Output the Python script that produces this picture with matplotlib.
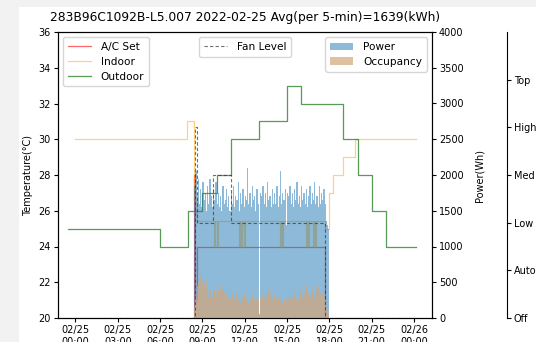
import matplotlib
matplotlib.use('Agg')
import matplotlib.pyplot as plt
import matplotlib.dates as mdates
import pandas as pd
from matplotlib.patches import Rectangle

# ---------------- data ----------------
title = "283B96C1092B-L5.007 2022-02-25 Avg(per 5-min)=1639(kWh)"

outdoor_times = ['2022-02-24 23:30', '2022-02-25 06:00', '2022-02-25 08:00', '2022-02-25 09:00',
                 '2022-02-25 10:00', '2022-02-25 11:00', '2022-02-25 13:00', '2022-02-25 15:00',
                 '2022-02-25 16:00', '2022-02-25 19:00', '2022-02-25 20:00', '2022-02-25 21:00',
                 '2022-02-25 22:00', '2022-02-26 00:10']
outdoor_vals = [25, 24, 26, 27, 28, 30, 31, 33, 32, 30, 28, 26, 24, 24]

indoor_times = ['00:00', '07:55', '08:25', '08:35',
                '09:50', '09:55', '10:00', '10:05',
                '11:35', '11:40', '11:45', '11:50', '11:55', '12:00',
                '14:30', '14:35', '14:40', '14:45',
                '16:20', '16:25', '16:30', '16:35',
                '16:50', '16:55', '17:00', '17:05',
                '17:40', '18:00', '18:15', '19:00', '19:50', '24:10']
indoor_vals = [30, 31, 26.5, 25.4,
               24, 25.4, 24, 25.4,
               24, 25.4, 24, 25.4, 24, 25.4,
               24, 25.4, 24, 25.4,
               24, 25.4, 24, 25.4,
               24, 25.4, 24, 25.4,
               25, 27, 28, 29, 30, 30]

acset_times = ['00:00', '08:25', '08:30', '08:35', '17:40', '24:10']
acset_vals = [0, 28, 21, 24, 0, 0]

fan_times = ['00:00', '08:30', '08:35', '09:45', '11:00', '17:40', '24:10']
fan_vals = [0, 4, 2, 3, 2, 0, 0]
fan_labels = ['Off', 'Auto', 'Low', 'Med', 'High', 'Top']

power_start = '2022-02-25 08:25'
power_vals = [1850, 2050, 1700, 1950, 1600, 1800, 1550, 1900,
              1650, 1750, 1500, 1850, 1600, 1950, 1700, 1550, 1800, 1650, 1900, 1600,
              1750, 1550, 1700, 1500, 1850, 1600, 1650, 1800, 1550, 1700, 1500, 1750,
              1600, 1850, 1550, 1700, 1650, 1900, 1500, 1750, 1600, 1800, 1550, 1700,
              1650, 2100, 1600, 1750, 1550, 1850, 1650, 1700, 1500, 1800, 1600, 60,
              1750, 1700, 1850, 1600, 1750, 1550, 1900, 1650, 1700, 1550, 1800, 1600,
              1750, 1600, 1850, 1550, 1700, 2050, 1600, 1750, 1650, 1800, 1300, 1750,
              1700, 1850, 1600, 1750, 1550, 1800, 1650, 1900, 1600, 1700, 1550, 1850,
              1650, 1750, 1600, 1800, 1550, 1700, 1850, 1600, 1750, 1650, 1900, 1600,
              1700, 1550, 1850, 1600, 1750, 1650, 1800, 1600, 1350, 1300, 1250]
occ_vals = [150, 300, 450, 500, 550, 600, 650, 500,
            450, 400, 550, 350, 300, 400, 350, 300, 450, 400, 350, 300,
            400, 350, 450, 500, 400, 350, 300, 350, 400, 300, 250, 300,
            350, 300, 250, 300, 350, 250, 300, 200, 250, 300, 350, 250,
            300, 250, 200, 250, 300, 350, 300, 250, 200, 250, 300, 0,
            250, 300, 350, 300, 250, 300, 350, 400, 350, 300, 250, 300,
            350, 300, 250, 300, 350, 300, 250, 200, 250, 300, 250, 300,
            250, 300, 350, 300, 400, 350, 300, 250, 300, 350, 400, 350,
            300, 350, 400, 450, 400, 350, 300, 350, 400, 350, 300, 350,
            400, 450, 400, 350, 400, 350, 300, 250, 150, 100, 50]

# ---------------- helpers ----------------
def tday(lst):
    return [pd.Timestamp('2022-02-25') + pd.Timedelta(hours=int(s.split(':')[0]), minutes=int(s.split(':')[1])) for s in lst]

W, H = 536, 342
fig = plt.figure(figsize=(W / 100, H / 100), dpi=100)
fig.patch.set_facecolor('#f1f2f1')
fig.add_artist(Rectangle((19 / W, 0), 1, (H - 7) / H, transform=fig.transFigure,
                         facecolor='white', edgecolor='none', zorder=-10))

ax1 = fig.add_axes([58 / W, (H - 318) / H, (432 - 58) / W, (318 - 32) / H])
ax2 = ax1.twinx()
ax3 = ax1.twinx()
ax3.spines['right'].set_position(('axes', 1.2))
for s in ['left', 'top', 'bottom']:
    ax3.spines[s].set_visible(False)

fs = 7
# temperature lines
l1, = ax1.plot(tday(acset_times), acset_vals, drawstyle='steps-post', color='red', lw=0.9, alpha=0.6, label='A/C Set')
l2, = ax1.plot(tday(indoor_times), indoor_vals, drawstyle='steps-post', color='orange', lw=0.9, alpha=0.5, label='Indoor')
l3, = ax1.plot(pd.to_datetime(outdoor_times), outdoor_vals, drawstyle='steps-post', color='#1e7a1e', lw=0.9, alpha=0.75, label='Outdoor')
ax1.set_ylim(20, 36)
ax1.set_yticks(range(20, 37, 2))
ax1.set_ylabel('Temperature(°C)', fontsize=fs)

# bars
ptimes = pd.date_range(power_start, periods=len(power_vals), freq='5min')
bw = 5 / 1440
b1 = ax2.bar(ptimes, power_vals, width=bw, align='edge', color='#1f77b4', alpha=0.5, label='Power')
b2 = ax2.bar(ptimes, occ_vals, width=bw, align='edge', color='#d2a679', alpha=0.7, label='Occupancy')
ax2.set_ylim(0, 4000)
ax2.set_yticks(range(0, 4001, 500))
ax2.set_ylabel('Power(Wh)', fontsize=fs, labelpad=8)

# fan
l4, = ax3.plot(tday(fan_times), fan_vals, drawstyle='steps-post', color='#333333', lw=0.8, alpha=0.7,
               linestyle=(0, (3, 2)), label='Fan Level')
ax3.set_ylim(0, 6)
ax3.set_yticks(range(6))
ax3.set_yticklabels(fan_labels)

# x axis
x0 = pd.Timestamp('2022-02-25')
ax1.set_xlim(x0 - pd.Timedelta(hours=1.24), x0 + pd.Timedelta(hours=25.28))
ax1.xaxis.set_major_locator(mdates.HourLocator(byhour=range(0, 24, 3)))
ax1.xaxis.set_major_formatter(mdates.DateFormatter('%m/%d\n%H:%M'))

for a in (ax1, ax2, ax3):
    a.tick_params(labelsize=fs, length=3, pad=2)

ax1.set_title(title, fontsize=8.8, pad=8)

leg_kw = dict(fontsize=7.6, borderpad=0.45, labelspacing=0.45, handlelength=2.2, handletextpad=0.9)
ax1.legend(handles=[l1, l2, l3], loc='upper left', **leg_kw)
ax3.legend(handles=[l4], loc='upper center', **leg_kw)
ax2.legend(handles=[b1, b2], loc='upper right', **leg_kw)

fig.savefig('out.png', dpi=100, facecolor=fig.get_facecolor())
